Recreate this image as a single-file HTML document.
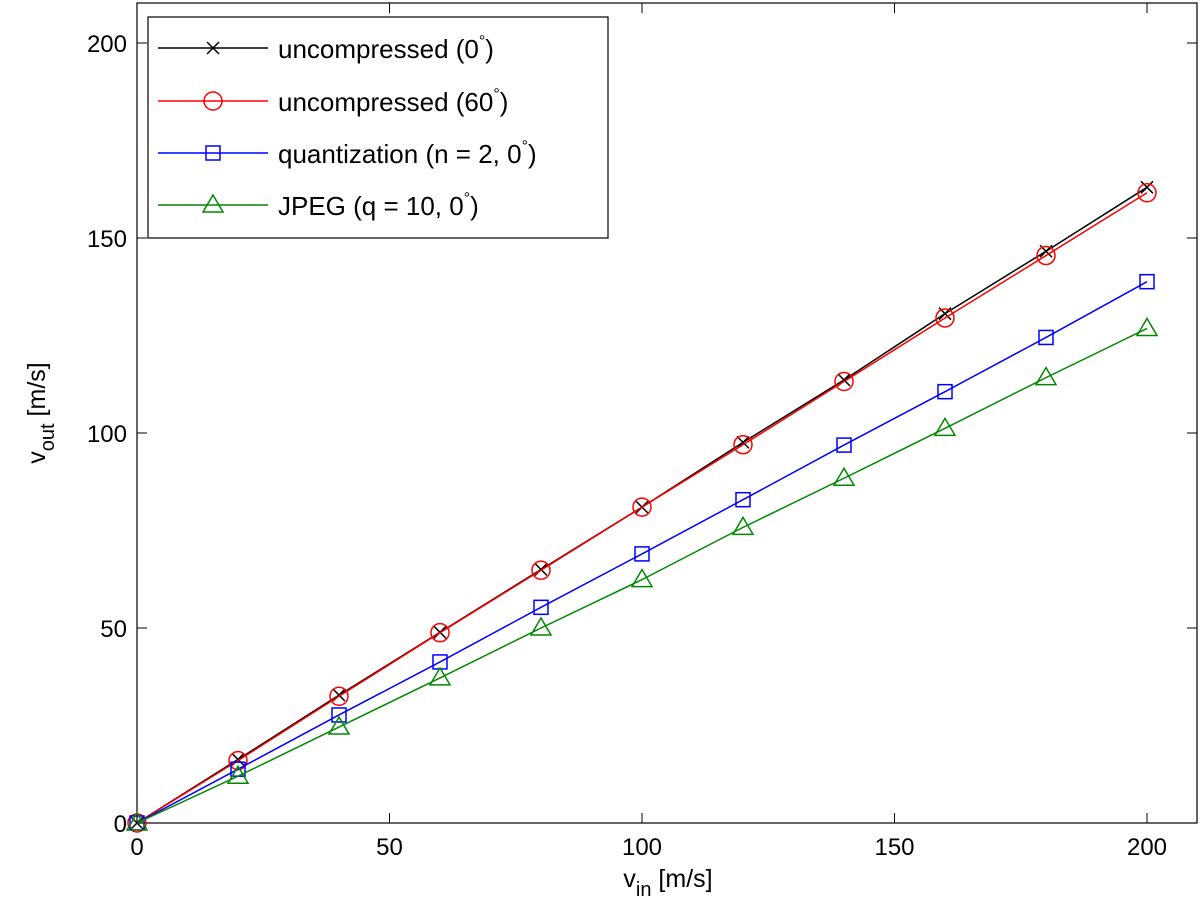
<!DOCTYPE html>
<html><head><meta charset="utf-8"><style>body{margin:0;background:#fff}svg text{font-family:"Liberation Sans",sans-serif}</style></head>
<body>
<svg id="chart" width="1200" height="910" xmlns="http://www.w3.org/2000/svg"></svg>
<script>
const xVals=[0,20,40,60,80,100,120,140,160,180,200];
const seriesBlack=[0,16.3,32.8,48.9,65,81,97.6,113.6,130.6,146.6,163];
const seriesRed=[0,16,32.5,48.8,64.8,81,97,113.2,129.5,145.5,161.6];
const seriesBlue=[0,13.8,27.7,41.3,55.3,69,82.9,96.9,110.6,124.5,138.8];
const seriesGreen=[0,12,24.6,37.2,50,62.4,75.8,88.4,101.2,114.2,126.8];
const xTicks=[0,50,100,150,200];
const yTicks=[0,50,100,150,200];
const legendLabels=["uncompressed (0","uncompressed (60","quantization (n = 2, 0","JPEG (q = 10, 0"];
const legendSuffix=[")",")",")",")"];

const NS="http://www.w3.org/2000/svg";
const svg=document.getElementById('chart');
const L=137,R=1197,T=3,B=823;
const X=v=>L+v*5.05;
const Y=v=>B-v*3.9;
function el(tag,attrs,parent){const e=document.createElementNS(NS,tag);for(const k in attrs)e.setAttribute(k,attrs[k]);(parent||svg).appendChild(e);return e;}

const frame=el('rect',{x:L,y:T,width:R-L,height:B-T,fill:'none',stroke:'#000','stroke-width':1.2});



xTicks.forEach(t=>{
  const x=X(t);
  el('line',{x1:x,y1:B,x2:x,y2:B-10,stroke:'#000'});
  el('line',{x1:x,y1:T,x2:x,y2:T+10,stroke:'#000'});
  const tx=el('text',{x:x,y:B+32,'font-size':24,'text-anchor':'middle'});
  tx.textContent=t;
  
  
});
yTicks.forEach(t=>{
  const y=Y(t);
  el('line',{x1:L,y1:y,x2:L+10,y2:y,stroke:'#000'});
  el('line',{x1:R,y1:y,x2:R-10,y2:y,stroke:'#000'});
  const tx=el('text',{x:L-10,y:y+9,'font-size':24,'text-anchor':'end'});
  tx.textContent=t;
  
  
});

const xt=el('text',{x:668,y:887,'font-size':25,'text-anchor':'middle'});
xt.innerHTML='v<tspan dy="9" font-size="20">in</tspan><tspan dy="-9"> [m/s]</tspan>';


const yt=el('text',{x:0,y:0,'font-size':25,'text-anchor':'middle',transform:'translate(45,413) rotate(-90)'});
yt.innerHTML='v<tspan dy="9" font-size="20">out</tspan><tspan dy="-9"> [m/s]</tspan>';



function marker(type,x,y,color,g){
  if(type==='x'){el('path',{d:`M${x-6} ${y-6}L${x+6} ${y+6}M${x-6} ${y+6}L${x+6} ${y-6}`,stroke:color,'stroke-width':1.5},g);}
  else if(type==='o'){el('circle',{cx:x,cy:y,r:9,fill:'none',stroke:color,'stroke-width':1.5},g);}
  else if(type==='s'){el('rect',{x:x-7,y:y-7,width:14,height:14,fill:'none',stroke:color,'stroke-width':1.5},g);}
  else {el('path',{d:`M${x} ${y-10}L${x+10} ${y+7}L${x-10} ${y+7}Z`,fill:'none',stroke:color,'stroke-width':1.5},g);}
}
const series=[[seriesBlack,'#000','x','series-uncompressed-0'],[seriesRed,'#f00','o','series-uncompressed-60'],[seriesBlue,'#00f','s','series-quantization'],[seriesGreen,'#080','t','series-jpeg']];
series.forEach(([d,c,m,name])=>{
  const g=el('g',{});
  
  
  el('polyline',{points:d.map((v,i)=>X(xVals[i])+','+Y(v)).join(' '),fill:'none',stroke:c,'stroke-width':1.5},g);
  d.forEach((v,i)=>marker(m,X(xVals[i]),Y(v),c,g));
});

const lg=el('g',{});


el('rect',{x:148,y:17,width:460,height:221,fill:'#fff',stroke:'#000','stroke-width':1.2},lg);
const ly=[48,101,153,205];
series.forEach(([d,c,m,name],i)=>{
  const g=el('g',{},lg);
  
  
  el('line',{x1:158,y1:ly[i],x2:268,y2:ly[i],stroke:c,'stroke-width':1.5},g);
  marker(m,213,ly[i],c,g);
  const t=el('text',{x:278,y:ly[i]+10,'font-size':26},g);
  t.innerHTML=legendLabels[i]+'<tspan dy="-12" font-size="16">°</tspan><tspan dy="12">'+legendSuffix[i]+'</tspan>';
});
</script>
</body></html>
